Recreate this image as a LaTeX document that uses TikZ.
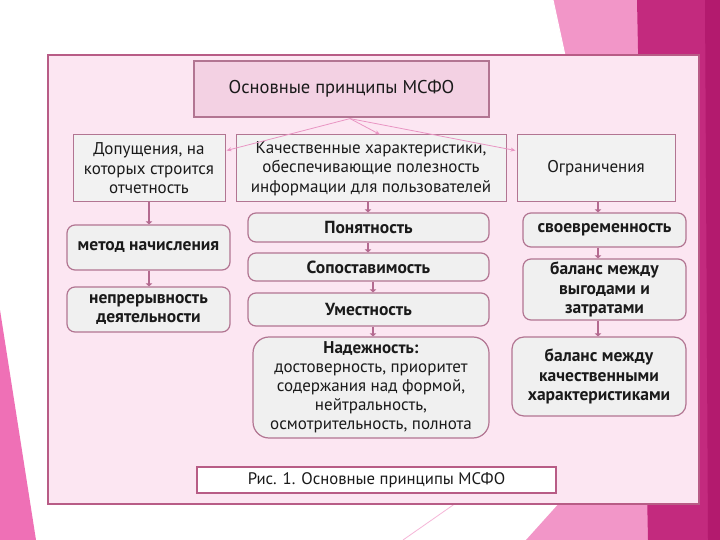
\documentclass[tikz,border=0pt]{standalone}
\usepackage{fontspec}
\setmainfont{PT Sans}
\usetikzlibrary{arrows.meta,calc}
\definecolor{framefill}{HTML}{FCE6F2}
\definecolor{frameline}{HTML}{B85C86}
\definecolor{titlefill}{HTML}{F3D1E3}
\definecolor{boxline}{HTML}{B27592}
\definecolor{boxfill}{HTML}{F2F2F2}
\definecolor{rbfill}{HTML}{F0F0F0}
\definecolor{conn}{HTML}{B46A90}
\definecolor{thinpink}{HTML}{E995C3}
\definecolor{darkmag}{HTML}{C32A7E}
\definecolor{darkermag}{HTML}{B31A6E}
\definecolor{lightmag}{HTML}{F296C8}
\definecolor{hotpink}{HTML}{EF70B6}
\definecolor{txt}{HTML}{1A1A1A}
\tikzset{
  sqbox/.style={draw=boxline, fill=boxfill, line width=1pt, inner sep=0pt, align=center, text=txt, font=\fontsize{17}{19.5}\selectfont},
  rbox/.style={draw=boxline, fill=rbfill, line width=1.2pt, rounded corners=8pt, inner sep=0pt, align=center, text=txt, font=\fontsize{17.5}{19.5}\selectfont\bfseries},
  vconn/.style={draw=conn, line width=2.6pt, -{Triangle[length=3pt,width=6.5pt]}},
  fanarrow/.style={draw=thinpink, line width=0.8pt, -{Stealth[length=5pt,width=4pt]}}
}
\begin{document}
\begin{tikzpicture}[x=1pt,y=-1pt]
\useasboundingbox (0,0) rectangle (720,540);
\fill[white] (0,0) rectangle (720,540);
% background decoration
\fill[lightmag] (553,0) -- (640,0) -- (646,60) -- (566,60) -- cycle;
\draw[white, line width=1pt] (553,0) -- (566,60);
\fill[lightmag] (526,540) -- (562,500) -- (650,500) -- (650,540) -- cycle;
\fill[darkmag] (637,0) -- (720,0) -- (720,540) -- (648,540) -- cycle;
\fill[darkermag] (705,0) -- (720,0) -- (720,540) -- (708,540) -- cycle;
\fill[hotpink] (0,310) -- (0,540) -- (36,540) -- cycle;
\draw[lightmag!70!white, line width=0.8pt] (403,540) -- (456,503);
% frame
\node[draw=frameline, fill=framefill, line width=1.3pt, minimum width=651pt, minimum height=449pt, inner sep=0pt] (frame) at (373.5,279.5) {};
% title
\node[draw=boxline, fill=titlefill, line width=1.2pt, minimum width=295pt, minimum height=56pt, inner sep=0pt, text=txt, font=\fontsize{18.5}{22}\selectfont] (title) at (341.5,89) {Основные принципы МСФО};
% row 2
\node[sqbox, minimum width=152pt, minimum height=67pt] (dop) at (149,168.5) {Допущения, на\\которых строится\\отчетность};
\node[sqbox, minimum width=270pt, minimum height=67pt] (kach) at (371,168.5) {Качественные характеристики,\\обеспечивающие полезность\\информации для пользователей};
\node[sqbox, minimum width=158pt, minimum height=67pt] (ogr) at (596,168.5) {Ограничения};
% left column
\node[rbox, minimum width=163pt, minimum height=45pt] (metod) at (148.5,247.5) {метод начисления};
\node[rbox, minimum width=163pt, minimum height=45pt] (nepr) at (148.5,309.5) {непрерывность\\деятельности};
% middle column
\node[rbox, minimum width=241pt, minimum height=29pt] (pon) at (368.5,227.5) {Понятность};
\node[rbox, minimum width=241pt, minimum height=28pt] (sop) at (368.5,267) {Сопоставимость};
\node[rbox, minimum width=241pt, minimum height=33pt] (umes) at (368.5,309.5) {Уместность};
\node[rbox, rounded corners=16pt, minimum width=236pt, minimum height=101pt, font=\fontsize{17}{19}\selectfont] (nad) at (371,387.5) {\textbf{Надежность:}\\достоверность, приоритет\\содержания над формой,\\нейтральность,\\осмотрительность, полнота};
% right column
\node[rbox, minimum width=163pt, minimum height=34pt] (svo) at (604.5,230) {своевременность};
\node[rbox, minimum width=163pt, minimum height=61pt] (bal1) at (604.5,289.5) {баланс между\\выгодами и\\затратами};
\node[rbox, rounded corners=12pt, minimum width=174pt, minimum height=79pt] (bal2) at (599,376.5) {баланс между\\качественными\\характеристиками};
% caption
\node[draw=frameline, fill=white, line width=1.3pt, minimum width=359pt, minimum height=26pt, inner sep=0pt, text=txt, font=\fontsize{16.7}{18}\selectfont] (cap) at (376.5,480) {Рис. 1. Основные принципы МСФО};
% fan arrows
\coordinate (src) at ($(title.south)+(8.5,1)$);
\draw[fanarrow] (src) -- ($(dop.north east)+(1,16)$);
\draw[fanarrow] (src) -- ($(kach.north)+(9,0)$);
\draw[fanarrow] (src) -- ($(ogr.north west)+(-1,16)$);
% vertical connectors
\coordinate (lx) at (149,0);
\coordinate (mx1) at (368,0);
\coordinate (mx2) at (373,0);
\coordinate (rx) at (598,0);
\draw[vconn] (dop.south -| lx) -- (metod.north -| lx);
\draw[vconn] (metod.south -| lx) -- (nepr.north -| lx);
\draw[vconn] (kach.south -| mx1) -- (pon.north -| mx1);
\draw[vconn] (pon.south -| mx1) -- (sop.north -| mx1);
\draw[vconn] (sop.south -| mx2) -- (umes.north -| mx2);
\draw[vconn] (umes.south -| mx2) -- (nad.north -| mx2);
\draw[vconn] (ogr.south -| rx) -- (svo.north -| rx);
\draw[vconn] (svo.south -| rx) -- (bal1.north -| rx);
\draw[vconn] (bal1.south -| rx) -- (bal2.north -| rx);
\end{tikzpicture}
\end{document}
